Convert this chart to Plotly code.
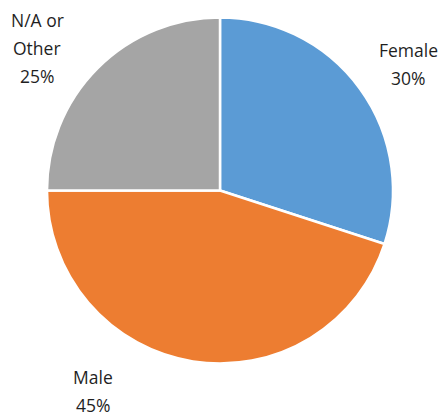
import plotly.graph_objects as go

categories = ["Female", "Male", "N/A or Other"]
label_lines = [["Female"], ["Male"], ["N/A or", "Other"]]
values = [30, 45, 25]
colors = ["#5B9BD5", "#ED7D31", "#A5A5A5"]

W, H = 443, 416
# label anchor (px, top-left origin) for the first line of each label
label_pos = [(408, 50), (93, 377), (37, 20)]
line_gap = 28

fig = go.Figure(go.Pie(
    labels=categories,
    values=values,
    sort=False,
    direction="clockwise",
    rotation=0,
    marker=dict(colors=colors, line=dict(color="white", width=2.5)),
    textinfo="none",
    hoverinfo="label+percent",
    domain=dict(x=[47 / W, 393 / W], y=[1 - 364 / H, 1 - 17 / H]),
    showlegend=False,
))

total = sum(values)
annotations = []
for lines, v, (px, py) in zip(label_lines, values, label_pos):
    all_lines = lines + [f"{round(100 * v / total)}%"]
    for i, t in enumerate(all_lines):
        annotations.append(dict(
            x=px / W, y=1 - (py + i * line_gap) / H,
            xref="paper", yref="paper",
            text=t, showarrow=False,
            xanchor="center", yanchor="middle",
            font=dict(family="Open Sans", size=17.5, color="#1f1f1f"),
        ))

fig.update_layout(
    width=W, height=H,
    margin=dict(l=0, r=0, t=0, b=0),
    paper_bgcolor="white",
    plot_bgcolor="white",
    annotations=annotations,
)

fig.write_html(
    "out.html",
    config={"displayModeBar": False},
    post_script="document.body.style.margin='0';document.body.style.overflow='hidden';",
)
